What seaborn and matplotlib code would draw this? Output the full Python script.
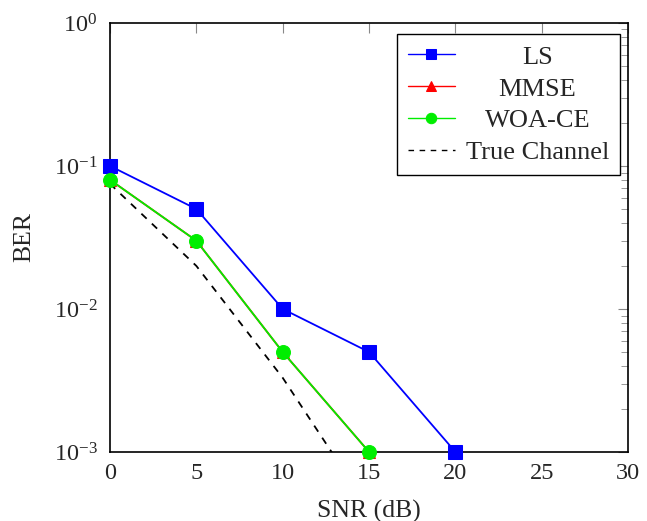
import numpy as np
import pandas as pd
import matplotlib
matplotlib.use("Agg")
import matplotlib.pyplot as plt
import seaborn as sns
from matplotlib.ticker import LogLocator, MultipleLocator

snr = [0, 5, 10, 15, 20]
ber_ls = [0.1, 0.05, 0.01, 0.005, 0.001]
snr_w = [0, 5, 10, 15]
ber_mmse = [0.08, 0.03, 0.005, 0.001]
ber_woa = [0.08, 0.03, 0.005, 0.001]
snr_true = [0, 5, 10, 15]
ber_true = [0.075, 0.02, 0.0033, 0.0004]

sns.set_theme(style="white")
plt.rcParams['font.family'] = ['Liberation Serif', 'DejaVu Serif']
plt.rcParams['mathtext.fontset'] = 'custom'
plt.rcParams['mathtext.rm'] = 'Liberation Serif'
plt.rcParams['mathtext.it'] = 'Liberation Serif:italic'

fig = plt.figure(figsize=(6.47, 5.21), dpi=100)
ax = fig.add_axes([0.17, 0.1324, 0.801, 0.8236])

df_ls = pd.DataFrame({"SNR": snr, "BER": ber_ls})
df_mmse = pd.DataFrame({"SNR": snr_w, "BER": ber_mmse})
df_woa = pd.DataFrame({"SNR": snr_w, "BER": ber_woa})
df_true = pd.DataFrame({"SNR": snr_true, "BER": ber_true})

sns.lineplot(data=df_ls, x="SNR", y="BER", ax=ax, color="#0000ff", marker="s",
             markersize=10, markeredgecolor="#0000ff", linewidth=1.3, label="LS", clip_on=False, zorder=4)
sns.lineplot(data=df_mmse, x="SNR", y="BER", ax=ax, color="#ff0000", marker="^",
             markersize=8, markeredgecolor="#ff0000", linewidth=1.3, label="MMSE", clip_on=False, zorder=3)
sns.lineplot(data=df_woa, x="SNR", y="BER", ax=ax, color="#00ee00", marker="o",
             markersize=10, markeredgecolor="#00ee00", linewidth=1.3, label="WOA-CE", clip_on=False, zorder=5)
sns.lineplot(data=df_true, x="SNR", y="BER", ax=ax, color="black", linestyle=(0, (4, 4)),
             linewidth=1.3, label="True Channel", zorder=2)

ax.set_yscale("log")
ax.set_xlim(0, 30)
ax.set_ylim(1e-3, 1)
ax.xaxis.set_major_locator(MultipleLocator(5))
ax.yaxis.set_major_locator(LogLocator(base=10, numticks=10))
ax.yaxis.set_minor_locator(LogLocator(base=10, subs=np.arange(2, 10), numticks=20))
ax.tick_params(axis="both", which="both", direction="in", top=True, right=True,
               labelsize=17.5, color="#888888")
ax.tick_params(which="major", length=7, width=0.8)
ax.tick_params(which="minor", length=5, width=0.6)
ax.tick_params(axis="x", pad=8)
ax.tick_params(axis="y", pad=9)
for s in ax.spines.values():
    s.set_color("black")
    s.set_linewidth(1.2)
ax.set_xlabel("SNR (dB)", fontsize=18.5, labelpad=11)
ax.set_ylabel("BER", fontsize=18.5, labelpad=13)

leg = ax.legend(loc="upper right", fontsize=19, frameon=True, fancybox=False,
                edgecolor="black", framealpha=1, borderpad=0.42, handlelength=1.8,
                handletextpad=0.4, labelspacing=0.32, borderaxespad=0,
                bbox_to_anchor=(0.9846, 0.974))
leg.get_frame().set_linewidth(1.0)
for h in leg.legend_handles:
    h.set_markersize(7.5)
    h.set_linewidth(1.0)

fig.canvas.draw()
r = fig.canvas.get_renderer()
texts = leg.get_texts()
widths = [t.get_window_extent(r).width for t in texts]
maxw = max(widths)
for t, w in zip(texts, widths):
    t.set_position(((maxw - w) / 2, 0))

fig.savefig("out.png", dpi=100)
